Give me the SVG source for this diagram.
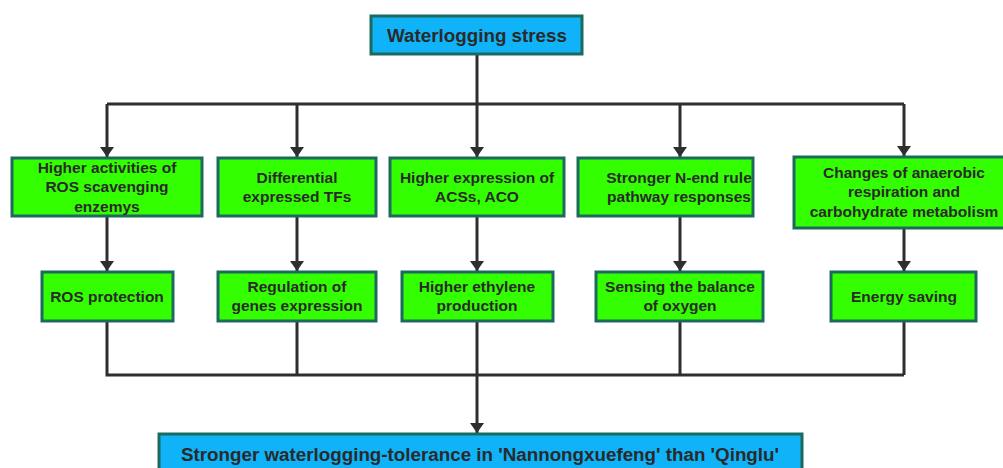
<svg xmlns="http://www.w3.org/2000/svg" width="1003" height="468" viewBox="0 0 1003 468">
<defs>
<marker id="ah" viewBox="0 0 10 14" refX="10" refY="7" markerWidth="10" markerHeight="14" markerUnits="userSpaceOnUse" orient="auto">
<path d="M0,0 L10,7 L0,14 Z" fill="#2e2e2e"/>
</marker>
<style>
.g{fill:#33ff00;stroke:#1c6a5e;stroke-width:3}
.b{fill:#10b2f8;stroke:#1c6a5e;stroke-width:3}
.t{font-family:"Liberation Sans",Arial,sans-serif;font-weight:bold;font-size:15.5px;fill:#2a2a2a;text-anchor:middle}
.tl{font-size:18.8px}
.c{fill:none;stroke:#2e2e2e;stroke-width:3}
</style>
</defs>
<rect width="1003" height="468" fill="#ffffff"/>
<g id="connectors">
<path class="c" d="M477,54 V104 M107,104 H904"/>
<path class="c" d="M107,104 V157" marker-end="url(#ah)"/>
<path class="c" d="M297,104 V157" marker-end="url(#ah)"/>
<path class="c" d="M477,104 V157" marker-end="url(#ah)"/>
<path class="c" d="M680,104 V157" marker-end="url(#ah)"/>
<path class="c" d="M904,104 V156" marker-end="url(#ah)"/>
<path class="c" d="M107,217 V271" marker-end="url(#ah)"/>
<path class="c" d="M297,217 V271" marker-end="url(#ah)"/>
<path class="c" d="M477,217 V271" marker-end="url(#ah)"/>
<path class="c" d="M680,217 V271" marker-end="url(#ah)"/>
<path class="c" d="M904,229 V271" marker-end="url(#ah)"/>
<path class="c" d="M107,322 V375 H904 M297,322 V375 M477,322 V375 M680,322 V375 M904,322 V375"/>
<path class="c" d="M477,375 V433" marker-end="url(#ah)"/>
</g>
<g id="n0"><rect class="b" x="371" y="16" width="211" height="38"/><text class="t tl" x="477" y="41.5">Waterlogging stress</text></g>
<g id="n1"><rect class="g" x="12" y="158" width="190" height="58"/><text class="t" x="107" y="172.5">Higher activities of</text><text class="t" x="107" y="192">ROS scavenging</text><text class="t" x="107" y="211.5">enzemys</text></g>
<g id="n2"><rect class="g" x="218" y="158" width="158" height="58"/><text class="t" x="297" y="182.5">Differential</text><text class="t" x="297" y="202">expressed TFs</text></g>
<g id="n3"><rect class="g" x="390" y="158" width="174" height="58"/><text class="t" x="477" y="182.5">Higher expression of</text><text class="t" x="477" y="202">ACSs, ACO</text></g>
<g id="n4"><rect class="g" x="578" y="158" width="175" height="58"/><text class="t" x="679" y="182.5">Stronger N-end rule</text><text class="t" x="679" y="202">pathway responses</text></g>
<g id="n5"><rect class="g" x="794" y="157" width="212" height="71"/><text class="t" x="904" y="178">Changes of anaerobic</text><text class="t" x="904" y="197">respiration and</text><text class="t" x="904" y="216.5">carbohydrate metabolism</text></g>
<g id="n6"><rect class="g" x="42" y="272" width="131" height="49"/><text class="t" x="107" y="301.5">ROS protection</text></g>
<g id="n7"><rect class="g" x="218" y="272" width="158" height="49"/><text class="t" x="297" y="292">Regulation of</text><text class="t" x="297" y="311">genes expression</text></g>
<g id="n8"><rect class="g" x="402" y="272" width="151" height="49"/><text class="t" x="477" y="292">Higher ethylene</text><text class="t" x="477" y="311">production</text></g>
<g id="n9"><rect class="g" x="596" y="272" width="167" height="49"/><text class="t" x="680" y="292">Sensing the balance</text><text class="t" x="680" y="311">of oxygen</text></g>
<g id="n10"><rect class="g" x="831" y="272" width="145" height="49"/><text class="t" x="904" y="301.5">Energy saving</text></g>
<g id="n11"><rect class="b" x="159" y="434" width="643" height="40"/><text class="t tl" x="480" y="461">Stronger waterlogging-tolerance in 'Nannongxuefeng' than 'Qinglu'</text></g>
</svg>
